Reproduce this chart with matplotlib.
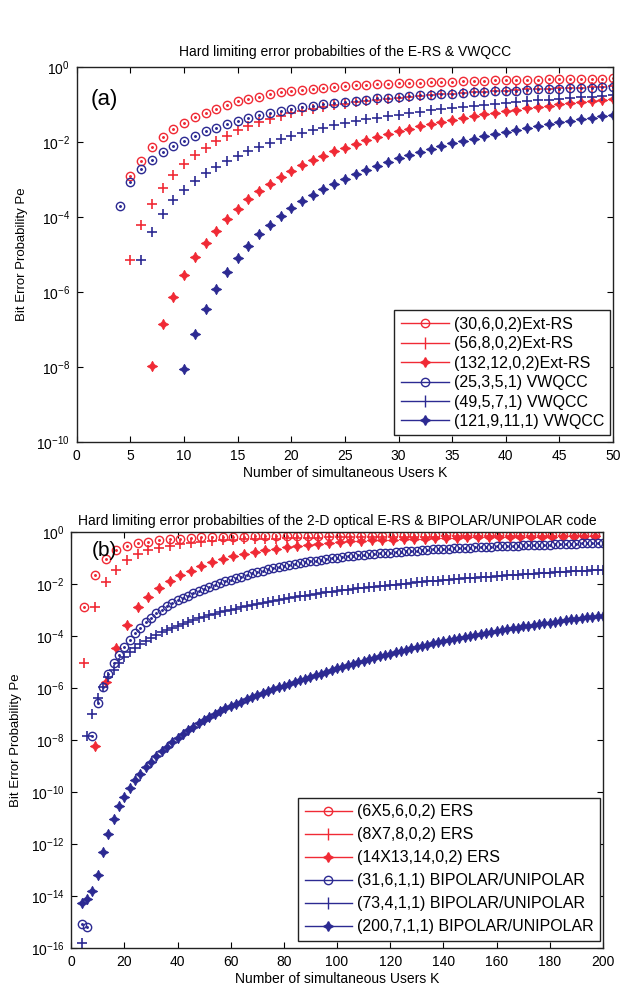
import matplotlib
matplotlib.use("Agg")
import matplotlib.pyplot as plt
from matplotlib.lines import Line2D
from matplotlib.ticker import FixedLocator, NullLocator, LogFormatterSciNotation
import numpy as np

plt.rcParams['font.family'] = ['Liberation Sans', 'DejaVu Sans']
plt.rcParams['mathtext.fontset'] = 'custom'
plt.rcParams['mathtext.rm'] = 'Liberation Sans'
plt.rcParams['mathtext.it'] = 'Liberation Sans'
plt.rcParams['mathtext.default'] = 'regular'

RED = '#f02a35'
BLUE = '#2c2a92'

# ---------------- Panel (a) data: log10(Pe) ----------------
title_a = "Hard limiting error probabilties of the E-RS & VWQCC"
labels_a = ["(30,6,0,2)Ext-RS", "(56,8,0,2)Ext-RS", "(132,12,0,2)Ext-RS",
            "(25,3,5,1) VWQCC", "(49,5,7,1) VWQCC", "(121,9,11,1) VWQCC"]

k_a_red_circ = list(range(5, 51))
lg_a_red_circ = [-2.91, -2.5, -2.13, -1.85, -1.65, -1.48, -1.33, -1.22, -1.1, -1.0,
                 -0.91, -0.84, -0.78, -0.72, -0.67, -0.63, -0.6, -0.57, -0.54, -0.52,
                 -0.5, -0.48, -0.46, -0.45, -0.44, -0.43, -0.42, -0.41, -0.4, -0.39,
                 -0.38, -0.37, -0.36, -0.36, -0.35, -0.35, -0.34, -0.33, -0.33, -0.32,
                 -0.32, -0.31, -0.31, -0.3, -0.3, -0.29]

k_a_red_plus = list(range(5, 51))
lg_a_red_plus = [-5.13, -4.22, -3.65, -3.22, -2.87, -2.58, -2.35, -2.15, -1.97, -1.82,
                 -1.68, -1.57, -1.47, -1.38, -1.3, -1.23, -1.17, -1.11, -1.06, -1.01,
                 -0.97, -0.93, -0.9, -0.87, -0.84, -0.81, -0.78, -0.76, -0.74, -0.72,
                 -0.7, -0.68, -0.66, -0.65, -0.63, -0.62, -0.6, -0.59, -0.58, -0.57,
                 -0.56, -0.55, -0.54, -0.53, -0.52, -0.51]

k_a_red_star = list(range(7, 51))
lg_a_red_star = [-7.97, -6.85, -6.13, -5.55, -5.07, -4.7, -4.37, -4.06, -3.77, -3.52,
                 -3.3, -3.1, -2.92, -2.76, -2.61, -2.48, -2.36, -2.24, -2.14, -2.04,
                 -1.95, -1.86, -1.78, -1.71, -1.64, -1.57, -1.51, -1.45, -1.4, -1.35,
                 -1.3, -1.25, -1.21, -1.17, -1.13, -1.09, -1.06, -1.02, -0.99, -0.96,
                 -0.93, -0.9, -0.87, -0.85]

k_a_blue_circ = list(range(4, 51))
lg_a_blue_circ = [-3.7, -3.07, -2.7, -2.48, -2.26, -2.1, -1.96, -1.83, -1.71, -1.61,
                  -1.5, -1.42, -1.35, -1.28, -1.22, -1.16, -1.11, -1.07, -1.03, -0.99,
                  -0.95, -0.92, -0.89, -0.86, -0.83, -0.81, -0.79, -0.77, -0.75, -0.73,
                  -0.71, -0.7, -0.68, -0.67, -0.65, -0.64, -0.63, -0.62, -0.6, -0.59,
                  -0.58, -0.57, -0.56, -0.55, -0.54, -0.53, -0.52]

k_a_blue_plus = list(range(6, 51))
lg_a_blue_plus = [-5.13, -4.39, -3.92, -3.55, -3.26, -3.02, -2.82, -2.65, -2.5, -2.37,
                  -2.24, -2.12, -2.01, -1.92, -1.83, -1.75, -1.68, -1.61, -1.55, -1.49,
                  -1.44, -1.39, -1.34, -1.3, -1.26, -1.22, -1.18, -1.15, -1.12, -1.09,
                  -1.06, -1.03, -1.0, -0.98, -0.95, -0.93, -0.9, -0.88, -0.86, -0.84,
                  -0.82, -0.8, -0.78, -0.76, -0.74]

k_a_blue_star = list(range(10, 51))
lg_a_blue_star = [-8.04, -7.13, -6.46, -5.91, -5.46, -5.09, -4.76, -4.46, -4.2, -3.97,
                  -3.76, -3.57, -3.4, -3.24, -3.1, -2.97, -2.85, -2.73, -2.62, -2.52,
                  -2.43, -2.34, -2.25, -2.17, -2.1, -2.03, -1.96, -1.9, -1.84, -1.78,
                  -1.72, -1.67, -1.62, -1.57, -1.52, -1.47, -1.43, -1.39, -1.35, -1.31,
                  -1.27]

# ---------------- Panel (b) data: log10(Pe) ----------------
title_b = "Hard limiting error probabilties of the 2-D optical E-RS & BIPOLAR/UNIPOLAR code"
labels_b = ["(6X5,6,0,2) ERS", "(8X7,8,0,2) ERS", "(14X13,14,0,2) ERS",
            "(31,6,1,1) BIPOLAR/UNIPOLAR", "(73,4,1,1) BIPOLAR/UNIPOLAR",
            "(200,7,1,1) BIPOLAR/UNIPOLAR"]

k_b_red_circ = list(range(5, 198, 4))
lg_b_red_circ = [-2.88, -1.65, -1.03, -0.71, -0.55, -0.45, -0.39, -0.33, -0.29, -0.26,
                 -0.24, -0.22, -0.21, -0.2, -0.19, -0.19, -0.18, -0.18, -0.17, -0.17,
                 -0.17, -0.16, -0.16, -0.16, -0.15, -0.15, -0.15, -0.15, -0.15, -0.14,
                 -0.14, -0.14, -0.14, -0.14, -0.14, -0.14, -0.13, -0.13, -0.13, -0.13,
                 -0.13, -0.13, -0.13, -0.13, -0.12, -0.12, -0.12, -0.12, -0.12]

k_b_red_plus = list(range(5, 198, 4))
lg_b_red_plus = [-5.04, -2.9, -1.94, -1.46, -1.09, -0.86, -0.71, -0.61, -0.53, -0.47,
                 -0.42, -0.38, -0.35, -0.33, -0.31, -0.29, -0.28, -0.27, -0.26, -0.25,
                 -0.24, -0.23, -0.23, -0.22, -0.22, -0.21, -0.21, -0.2, -0.2, -0.2,
                 -0.19, -0.19, -0.19, -0.19, -0.18, -0.18, -0.18, -0.18, -0.18, -0.17,
                 -0.17, -0.17, -0.17, -0.17, -0.16, -0.16, -0.16, -0.16, -0.16]

k_b_red_star = list(range(9, 198, 4))
lg_b_red_star = [-8.24, -5.76, -4.46, -3.58, -2.9, -2.49, -2.16, -1.91, -1.68, -1.49,
                 -1.33, -1.18, -1.06, -0.95, -0.86, -0.78, -0.71, -0.65, -0.59, -0.54,
                 -0.5, -0.46, -0.43, -0.4, -0.37, -0.35, -0.33, -0.31, -0.3, -0.28,
                 -0.27, -0.26, -0.25, -0.24, -0.23, -0.22, -0.22, -0.21, -0.21, -0.2,
                 -0.2, -0.19, -0.19, -0.19, -0.18, -0.18, -0.18, -0.17]

k_b_blue = list(range(4, 201, 2))
lg_b_blue_circ = [-15.06, -15.2, -7.87, -6.6, -5.95, -5.45, -5.05, -4.72, -4.42, -4.15,
                  -3.9, -3.68, -3.48, -3.3, -3.14, -3.0, -2.87, -2.75, -2.64, -2.54,
                  -2.45, -2.36, -2.28, -2.2, -2.12, -2.05, -1.98, -1.91, -1.84, -1.78,
                  -1.72, -1.66, -1.6, -1.55, -1.5, -1.45, -1.4, -1.36, -1.32, -1.28,
                  -1.24, -1.2, -1.17, -1.14, -1.11, -1.08, -1.05, -1.02, -1.0, -0.97,
                  -0.95, -0.93, -0.91, -0.89, -0.87, -0.85, -0.83, -0.81, -0.8, -0.78,
                  -0.77, -0.75, -0.74, -0.72, -0.71, -0.7, -0.68, -0.67, -0.66, -0.65,
                  -0.64, -0.63, -0.62, -0.61, -0.6, -0.59, -0.58, -0.57, -0.56, -0.55,
                  -0.55, -0.54, -0.53, -0.52, -0.52, -0.51, -0.5, -0.5, -0.49, -0.48,
                  -0.48, -0.47, -0.47, -0.46, -0.45, -0.45, -0.44, -0.44, -0.43]
lg_b_blue_plus = [-15.8, -7.85, -7.0, -6.4, -5.95, -5.6, -5.3, -5.05, -4.83, -4.64,
                  -4.47, -4.33, -4.2, -4.08, -3.97, -3.87, -3.78, -3.69, -3.61, -3.53,
                  -3.46, -3.39, -3.33, -3.27, -3.21, -3.15, -3.1, -3.05, -3.0, -2.95,
                  -2.9, -2.85, -2.81, -2.77, -2.73, -2.69, -2.65, -2.61, -2.58, -2.54,
                  -2.51, -2.48, -2.45, -2.42, -2.39, -2.36, -2.33, -2.3, -2.28, -2.25,
                  -2.23, -2.2, -2.18, -2.16, -2.13, -2.11, -2.09, -2.07, -2.05, -2.03,
                  -2.01, -1.99, -1.97, -1.95, -1.93, -1.91, -1.89, -1.88, -1.86, -1.84,
                  -1.83, -1.81, -1.79, -1.78, -1.76, -1.75, -1.73, -1.72, -1.7, -1.69,
                  -1.67, -1.66, -1.65, -1.63, -1.62, -1.61, -1.59, -1.58, -1.57, -1.56,
                  -1.54, -1.53, -1.52, -1.51, -1.5, -1.49, -1.48, -1.47, -1.46]
lg_b_blue_star = [-14.26, -14.11, -13.8, -13.18, -12.3, -11.6, -11.03, -10.56, -10.18, -9.85,
                  -9.56, -9.3, -9.06, -8.84, -8.63, -8.44, -8.26, -8.09, -7.93, -7.78,
                  -7.63, -7.49, -7.36, -7.23, -7.11, -6.99, -6.88, -6.77, -6.71, -6.62,
                  -6.53, -6.44, -6.36, -6.28, -6.2, -6.12, -6.05, -5.98, -5.91, -5.84,
                  -5.77, -5.71, -5.65, -5.59, -5.52, -5.45, -5.38, -5.32, -5.25, -5.19,
                  -5.13, -5.07, -5.01, -4.95, -4.89, -4.84, -4.78, -4.73, -4.68, -4.63,
                  -4.58, -4.53, -4.48, -4.43, -4.38, -4.34, -4.29, -4.25, -4.21, -4.16,
                  -4.12, -4.08, -4.04, -4.0, -3.96, -3.92, -3.89, -3.85, -3.81, -3.78,
                  -3.74, -3.71, -3.68, -3.64, -3.61, -3.58, -3.55, -3.52, -3.49, -3.46,
                  -3.43, -3.4, -3.37, -3.35, -3.32, -3.29, -3.27, -3.24, -3.22]

xticks_a = [0, 5, 10, 15, 20, 25, 30, 35, 40, 45, 50]
xticks_b = [0, 20, 40, 60, 80, 100, 120, 140, 160, 180, 200]
xlabel = "Number of simultaneous Users K"
ylabel = "Bit Error Probability Pe"

STAR4 = (4, 1, 0)


def series(ax, k, lg, color, kind, ms):
    y = np.power(10.0, np.asarray(lg))
    if kind == 'o':
        ax.plot(k, y, linestyle='none', marker='o', markersize=ms, markerfacecolor='none',
                markeredgecolor=color, markeredgewidth=1.0)
        ax.plot(k, y, linestyle='none', marker='.', markersize=2.2, color=color)
    elif kind == '+':
        ax.plot(k, y, linestyle='none', marker='+', markersize=ms + 1, color=color,
                markeredgewidth=1.2)
    else:
        ax.plot(k, y, linestyle='none', marker=STAR4, markersize=ms + 1.5, color=color,
                markeredgewidth=0.6)


def style_axes(ax, xmax, xticks, ymin):
    ax.set_yscale('log')
    ax.set_xlim(0, xmax)
    ax.set_ylim(10.0 ** ymin, 1.0)
    ax.set_xticks(xticks)
    ax.yaxis.set_major_locator(FixedLocator([10.0 ** e for e in range(ymin, 1, 2)]))
    ax.yaxis.set_major_formatter(LogFormatterSciNotation())
    ax.yaxis.set_minor_locator(NullLocator())
    ax.tick_params(direction='in', top=True, right=True, length=4, width=0.8,
                   labelsize=10, pad=5)
    for s in ax.spines.values():
        s.set_linewidth(1.0)
        s.set_color('#222222')
    ax.set_xlabel(xlabel, fontsize=10, labelpad=2)
    ax.set_ylabel(ylabel, fontsize=9.5, labelpad=6)


def legend(ax, labels, fs, spacing):
    kinds = ['o', '+', '*', 'o', '+', '*']
    colors = [RED, RED, RED, BLUE, BLUE, BLUE]
    handles = []
    for kd, c, lab in zip(kinds, colors, labels):
        if kd == 'o':
            h = Line2D([], [], color=c, marker='o', markerfacecolor='none', markersize=6,
                       linewidth=1.0, label=lab)
        elif kd == '+':
            h = Line2D([], [], color=c, marker='|', markersize=8, linewidth=1.0, label=lab)
        else:
            h = Line2D([], [], color=c, marker=STAR4, markersize=7, linewidth=1.0, label=lab)
        handles.append(h)
    leg = ax.legend(handles=handles, loc='lower right', bbox_to_anchor=(0.995, 0.0175),
                    fontsize=fs, frameon=True, fancybox=False, framealpha=1,
                    edgecolor='#222222', handlelength=3.0, handletextpad=0.3,
                    labelspacing=spacing, borderpad=0.4, borderaxespad=0)
    leg.get_frame().set_linewidth(1.0)


fig = plt.figure(figsize=(6.30, 9.91), dpi=100)

ax1 = fig.add_axes([0.122, 0.554, 0.851, 0.378])
series(ax1, k_a_red_circ, lg_a_red_circ, RED, 'o', 6)
series(ax1, k_a_red_plus, lg_a_red_plus, RED, '+', 6)
series(ax1, k_a_red_star, lg_a_red_star, RED, '*', 6)
series(ax1, k_a_blue_circ, lg_a_blue_circ, BLUE, 'o', 6)
series(ax1, k_a_blue_plus, lg_a_blue_plus, BLUE, '+', 6)
series(ax1, k_a_blue_star, lg_a_blue_star, BLUE, '*', 6)
style_axes(ax1, 50, xticks_a, -10)
ax1.set_title(title_a, fontsize=10, pad=8)
ax1.text(0.025, 0.915, "(a)", transform=ax1.transAxes, fontsize=16, va='center', ha='left')
legend(ax1, labels_a, 11.5, 0.28)

ax2 = fig.add_axes([0.113, 0.0434, 0.844, 0.42])
series(ax2, k_b_red_circ, lg_b_red_circ, RED, 'o', 6)
series(ax2, k_b_red_plus, lg_b_red_plus, RED, '+', 6)
series(ax2, k_b_red_star, lg_b_red_star, RED, '*', 6)
series(ax2, k_b_blue, lg_b_blue_circ, BLUE, 'o', 6)
series(ax2, k_b_blue, lg_b_blue_plus, BLUE, '+', 6)
series(ax2, k_b_blue, lg_b_blue_star, BLUE, '*', 6)
style_axes(ax2, 200, xticks_b, -16)
ax2.set_title(title_b, fontsize=10, pad=5)
ax2.text(0.062, 0.955, "(b)", transform=ax2.transAxes, fontsize=15, va='center', ha='center')
legend(ax2, labels_b, 11.5, 0.5)

fig.savefig("out.png", dpi=100)
